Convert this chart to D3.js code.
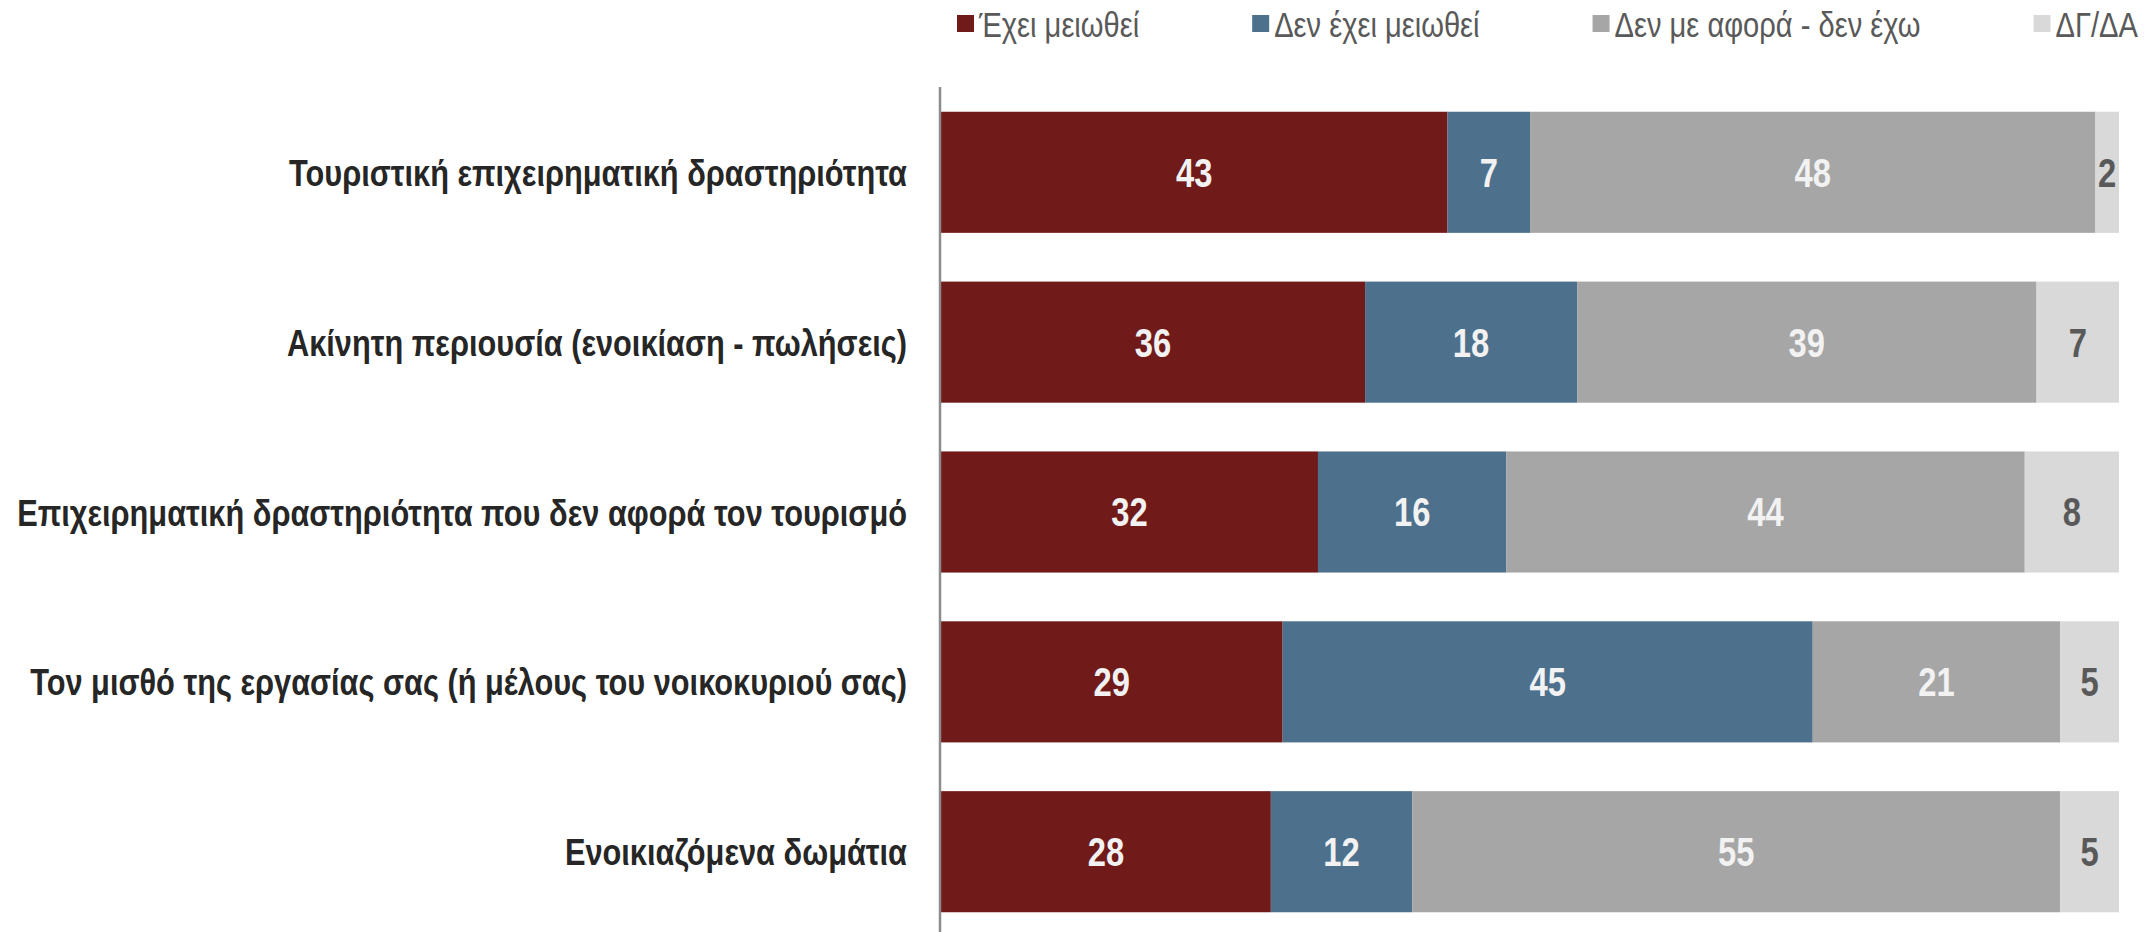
<!DOCTYPE html>
<html>

<head>
    <meta charset="utf-8">
    <title>Stacked bars</title>
    <script src="https://d3js.org/d3.v7.min.js"></script>
    <style>
        body { margin: 0; background: #fff; }
        text { font-family: "Liberation Sans", Arial, sans-serif; }
    </style>
</head>

<body>
    <div id="chart"></div>

    <script>
        // Data
        const categories = [
            'Τουριστική επιχειρηματική δραστηριότητα',
            'Ακίνητη περιουσία (ενοικίαση - πωλήσεις)',
            'Επιχειρηματική δραστηριότητα που δεν αφορά τον τουρισμό',
            'Τον μισθό της εργασίας σας (ή μέλους του νοικοκυριού σας)',
            'Ενοικιαζόμενα δωμάτια'
        ];
        const seriesNames = ['Έχει μειωθεί', 'Δεν έχει μειωθεί', 'Δεν με αφορά - δεν έχω', 'ΔΓ/ΔΑ'];
        const reduced    = [43, 36, 32, 29, 28];
        const notReduced = [7, 18, 16, 45, 12];
        const notApply   = [48, 39, 44, 21, 55];
        const dkna       = [2, 7, 8, 5, 5];

        const colors = ['#701a1a', '#4d708c', '#a6a6a6', '#d9d9d9'];
        const labelColors = ['#f2f2f2', '#f2f2f2', '#f2f2f2', '#595959'];

        const width = 2146;
        const height = 932;
        const narrow = 0.82; // no narrow font installed, squeeze the regular one

        const svg = d3.select('#chart').append('svg')
                      .attr('width', width)
                      .attr('height', height);

        // text squeezed horizontally around its anchor point
        function narrowText(x, y, str) {
            return svg.append('text')
                      .attr('transform', `translate(${x},${y}) scale(${narrow},1)`)
                      .attr('dy', '0.36em')
                      .text(str);
        }

        // Build rows for the stack
        const rows = categories.map((c, i) => ({
            cat: c,
            s0: reduced[i],
            s1: notReduced[i],
            s2: notApply[i],
            s3: dkna[i]
        }));
        const stack = d3.stack().keys(['s0', 's1', 's2', 's3']);
        const layers = stack(rows);

        // Scales
        const xScale = d3.scaleLinear()
                         .domain([0, 100])
                         .range([941, 2119]);

        const yScale = d3.scaleBand()
                         .domain(categories)
                         .range([63, 961])
                         .padding(0.287);

        // Bars
        layers.forEach((layer, k) => {
            layer.forEach((d) => {
                const x0 = xScale(d[0]);
                const x1 = xScale(d[1]);
                const y = yScale(d.data.cat);
                svg.append('rect')
                   .attr('x', x0)
                   .attr('y', y)
                   .attr('width', x1 - x0)
                   .attr('height', yScale.bandwidth())
                   .style('fill', colors[k]);
            });
        });

        // Value labels
        layers.forEach((layer, k) => {
            layer.forEach((d) => {
                narrowText((xScale(d[0]) + xScale(d[1])) / 2,
                           yScale(d.data.cat) + yScale.bandwidth() / 2,
                           d[1] - d[0])
                    .attr('text-anchor', 'middle')
                    .style('font-size', '40px')
                    .style('font-weight', 'bold')
                    .style('fill', labelColors[k]);
            });
        });

        // Category labels
        categories.forEach((c) => {
            narrowText(907, yScale(c) + yScale.bandwidth() / 2, c)
                .attr('text-anchor', 'end')
                .style('font-size', '37.5px')
                .style('font-weight', 'bold')
                .style('fill', '#262626');
        });

        // Vertical axis line
        svg.append('line')
           .attr('x1', 940)
           .attr('x2', 940)
           .attr('y1', 87)
           .attr('y2', height)
           .attr('stroke', '#8c8c8c')
           .attr('stroke-width', 2.5);

        // Legend
        let lx = 957;
        seriesNames.forEach((name, k) => {
            svg.append('rect')
               .attr('x', lx)
               .attr('y', 15)
               .attr('width', 17)
               .attr('height', 17)
               .style('fill', colors[k]);
            const t = narrowText(lx + 22, 24, name)
                         .style('font-size', '35.5px')
                         .style('fill', '#595959');
            lx += 22 + t.node().getComputedTextLength() * narrow + 113;
        });
    </script>
</body>

</html>
